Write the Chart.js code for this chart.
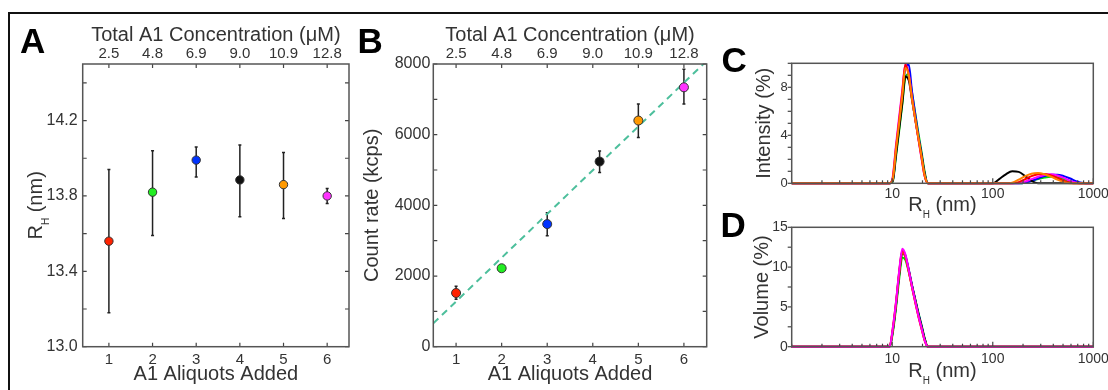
<!DOCTYPE html>
<html>
<head>
<meta charset="utf-8">
<script src="https://cdn.jsdelivr.net/npm/chart.js@4.4.1/dist/chart.umd.min.js"></script>
<style>
  html, body { margin: 0; padding: 0; background: #fff; }
  body { width: 1108px; height: 390px; position: relative; overflow: hidden; font-family: "Liberation Sans", Arial, sans-serif; }
  canvas { position: absolute; }
  .frame { position: absolute; left: 8px; top: 12px; width: 1200px; height: 500px; border-top: 2px solid #111; border-left: 2px solid #111; }
  .lbl { position: absolute; font-weight: bold; font-size: 35px; line-height: 35px; color: #000; }
</style>
</head>
<body>
<div class="frame"></div>
<canvas id="chartA" width="355" height="390" style="left:0;top:0"></canvas>
<canvas id="chartB" width="365" height="390" style="left:355px;top:0"></canvas>
<canvas id="chartC" width="410" height="222" style="left:720px;top:0"></canvas>
<canvas id="chartD" width="410" height="190" style="left:720px;top:200px"></canvas>
<div class="lbl" style="left:20px;top:23.4px">A</div>
<div class="lbl" style="left:357.5px;top:23.4px">B</div>
<div class="lbl" style="left:721.5px;top:42.4px">C</div>
<div class="lbl" style="left:720.5px;top:207.4px">D</div>
<script>
// shared categories
const ALIQUOTS = [1, 2, 3, 4, 5, 6];
const CONC_LABELS = ['2.5', '4.8', '6.9', '9.0', '10.9', '12.8'];
const POINT_COLORS = ['#ff2200', '#22ee22', '#0033ff', '#111111', '#ff9900', '#ff33ff'];
const LINE_COLORS = { red: '#ff0000', green: '#00dd00', blue: '#0000ff', black: '#000000', orange: '#ff8000', magenta: '#ff00ff' };

// panel A - hydrodynamic radius
const RH_MEAN = [13.56, 13.82, 13.99, 13.885, 13.86, 13.80];
const RH_LO = [13.18, 13.59, 13.90, 13.69, 13.68, 13.76];
const RH_HI = [13.94, 14.04, 14.06, 14.07, 14.03, 13.84];
const A_Y_TICKS = [13.0, 13.2, 13.4, 13.6, 13.8, 14.0, 14.2, 14.4];
const A_Y_LABELS = [13.0, 13.4, 13.8, 14.2];

// panel B - count rate
const B_X = [1, 2, 3, 4.15, 5, 6];
const COUNT_RATE = [1520, 2220, 3470, 5240, 6400, 7340];
const CR_LO = [1340, 2200, 3140, 4930, 5920, 6870];
const CR_HI = [1710, 2240, 3790, 5540, 6870, 7850];
const FIT_X = [0.5, 6.5];
const FIT_Y = [660, 8090];
const B_Y_TICKS = [0, 1000, 2000, 3000, 4000, 5000, 6000, 7000, 8000];
const B_Y_LABELS = [0, 2000, 4000, 6000, 8000];

// panels C and D - size distributions
const LOG_TICKS = [1, 2, 3, 4, 5, 6, 7, 8, 9, 10, 20, 30, 40, 50, 60, 70, 80, 90, 100, 200, 300, 400, 500, 600, 700, 800, 900, 1000];
const LOG_LABELS = [10, 100, 1000];
const C_BINS = [1, 9.4, 10.1, 10.9, 11.7, 12.6, 13.5, 14.6, 15.7, 16.9, 18.2, 19.6, 21.0, 22.6,
  100, 116, 135, 156, 181, 210, 243, 282, 327, 379, 439, 509, 590, 684, 793, 919, 1000];
const C_ORANGE = [0, 0, 0.3, 2.8, 5.0, 7.3, 9.6, 9.0, 7.1, 5.4, 3.8, 2.2, 0.7, 0,
  0, 0, 0, 0.05, 0.3, 0.6, 0.8, 0.85, 0.75, 0.55, 0.3, 0.1, 0, 0, 0, 0, 0];
const C_RED = [0, 0, 0.4, 3.0, 5.2, 7.6, 9.9, 9.0, 7.1, 5.4, 3.7, 2.1, 0.6, 0,
  0, 0, 0, 0, 0.1, 0.35, 0.6, 0.75, 0.78, 0.65, 0.45, 0.2, 0.05, 0, 0, 0, 0];
const C_MAGENTA = [0, 0, 0.5, 3.2, 5.5, 7.8, 9.9, 9.1, 7.2, 5.4, 3.7, 2.0, 0.6, 0,
  0, 0, 0, 0, 0, 0.15, 0.35, 0.55, 0.7, 0.75, 0.65, 0.45, 0.2, 0.05, 0, 0, 0];
const C_BLACK = [0, 0, 0.2, 2.4, 4.5, 6.7, 8.9, 8.6, 7.0, 5.4, 3.8, 2.3, 0.8, 0,
  0, 0.35, 0.75, 1.0, 0.95, 0.6, 0.2, 0, 0, 0, 0, 0, 0, 0, 0, 0, 0];
const C_BLUE = [0, 0, 0.2, 2.6, 4.8, 7.2, 9.6, 9.9, 7.7, 5.8, 4.0, 2.4, 0.8, 0,
  0, 0, 0, 0, 0, 0.05, 0.2, 0.4, 0.6, 0.72, 0.72, 0.6, 0.4, 0.15, 0.02, 0, 0];
const C_GREEN = [0, 0, 0.1, 2.2, 4.3, 6.6, 8.8, 9.1, 7.6, 5.9, 4.2, 2.6, 1.0, 0,
  0, 0, 0, 0, 0, 0.05, 0.2, 0.35, 0.48, 0.55, 0.5, 0.35, 0.15, 0.03, 0, 0, 0];

const D_BINS = [1, 9.4, 10.1, 10.9, 11.7, 12.6, 13.5, 14.6, 15.7, 16.9, 18.2, 19.6, 21.0, 22.6, 1000];
const D_MAGENTA = [0, 0, 2.2, 5.6, 9.4, 12.3, 11.6, 9.6, 7.6, 5.7, 3.9, 2.3, 0.8, 0, 0];
const D_RED = [0, 0, 2.2, 5.6, 9.3, 12.1, 11.4, 9.5, 7.5, 5.6, 3.8, 2.2, 0.8, 0, 0];
const D_ORANGE = [0, 0, 2.0, 5.4, 9.1, 11.9, 11.3, 9.4, 7.5, 5.7, 3.9, 2.3, 0.8, 0, 0];
const D_BLACK = [0, 0, 1.9, 5.2, 8.9, 11.8, 11.3, 9.6, 7.7, 5.9, 4.1, 2.5, 1.0, 0, 0];
const D_BLUE = [0, 0, 1.9, 5.3, 9.1, 12.0, 11.5, 9.7, 7.8, 6.0, 4.2, 2.6, 1.0, 0, 0];
const D_GREEN = [0, 0, 1.6, 4.8, 8.4, 11.2, 10.9, 9.4, 7.7, 6.0, 4.3, 2.7, 1.1, 0, 0];

const FONT = '"Liberation Sans", Arial, sans-serif';
Chart.defaults.font.family = FONT;
Chart.defaults.color = '#333';
Chart.defaults.animation = false;

// per-canvas extras: error bars, tick marks and titles
const FIG = {
  chartA: {
    errX: ALIQUOTS, errLo: RH_LO, errHi: RH_HI,
    marks: [{ scale: 'x', len: 4, mirror: true }, { scale: 'y', len: 4, mirror: true }],
    titles: [
      { text: 'Total A1 Concentration (\u03bcM)', y: 35 },
      { text: 'A1 Aliquots Added', y: 374 },
      { text: 'R', sub: 'H', rest: ' (nm)', x: 36, rot: true }
    ]
  },
  chartB: {
    errX: B_X, errLo: CR_LO, errHi: CR_HI,
    marks: [{ scale: 'x', len: 4, mirror: true }, { scale: 'y', len: 4, mirror: true }],
    titles: [
      { text: 'Total A1 Concentration (\u03bcM)', y: 35 },
      { text: 'A1 Aliquots Added', y: 374 },
      { text: 'Count rate (kcps)', x: 17, rot: true }
    ]
  },
  chartC: {
    marks: [{ scale: 'x', len: 3, major: LOG_LABELS }, { scale: 'y', len: 4, out: true }],
    titles: [
      { text: 'R', sub: 'H', rest: ' (nm)', y: 205 },
      { text: 'Intensity (%)', x: 44, rot: true }
    ]
  },
  chartD: {
    marks: [{ scale: 'x', len: 3, major: LOG_LABELS }, { scale: 'y', len: 4, out: true }],
    titles: [
      { text: 'R', sub: 'H', rest: ' (nm)', y: 171 },
      { text: 'Volume (%)', x: 42.5, rot: true }
    ]
  }
};

const figurePlugin = {
  id: 'figure',
  beforeDatasetsDraw(chart) {
    const o = FIG[chart.canvas.id];
    if (!o || !o.errX) return;
    const ctx = chart.ctx, xs = chart.scales.x, ys = chart.scales.y;
    ctx.save();
    ctx.strokeStyle = '#222';
    ctx.lineWidth = 1.5;
    o.errX.forEach((xv, i) => {
      const px = xs.getPixelForValue(xv);
      const lo = ys.getPixelForValue(o.errLo[i]);
      const hi = ys.getPixelForValue(o.errHi[i]);
      ctx.beginPath();
      ctx.moveTo(px, lo); ctx.lineTo(px, hi);
      ctx.moveTo(px - 1.5, lo); ctx.lineTo(px + 1.5, lo);
      ctx.moveTo(px - 1.5, hi); ctx.lineTo(px + 1.5, hi);
      ctx.stroke();
    });
    ctx.restore();
  },
  afterDraw(chart) {
    const o = FIG[chart.canvas.id];
    if (!o) return;
    const ctx = chart.ctx, a = chart.chartArea;
    ctx.save();
    ctx.strokeStyle = '#444';
    ctx.lineWidth = 1.2;
    o.marks.forEach(m => {
      const s = chart.scales[m.scale];
      const dir = m.out ? -1 : 1;
      s.ticks.forEach(t => {
        const len = (m.major && m.major.includes(t.value)) ? m.len + 2 : m.len;
        const p = s.getPixelForValue(t.value);
        ctx.beginPath();
        if (s.isHorizontal()) {
          ctx.moveTo(p, a.bottom); ctx.lineTo(p, a.bottom - dir * len);
          if (m.mirror) { ctx.moveTo(p, a.top); ctx.lineTo(p, a.top + len); }
        } else {
          ctx.moveTo(a.left, p); ctx.lineTo(a.left + dir * len, p);
          if (m.mirror) { ctx.moveTo(a.right, p); ctx.lineTo(a.right - len, p); }
        }
        ctx.stroke();
      });
    });
    ctx.strokeStyle = '#555';
    ctx.lineWidth = 1.5;
    ctx.strokeRect(a.left, a.top, a.right - a.left, a.bottom - a.top);

    o.titles.forEach(t => {
      const big = '20px ' + FONT, small = '10px ' + FONT;
      ctx.save();
      if (t.rot) {
        ctx.translate(t.x, (a.top + a.bottom) / 2);
        ctx.rotate(-Math.PI / 2);
      } else {
        ctx.translate((a.left + a.right) / 2, t.y);
      }
      ctx.fillStyle = '#333';
      ctx.textBaseline = 'middle';
      ctx.textAlign = 'left';
      ctx.font = big;
      const w1 = ctx.measureText(t.text).width;
      let w2 = 0, w3 = 0;
      if (t.sub) {
        ctx.font = small; w2 = ctx.measureText(t.sub).width;
        ctx.font = big; w3 = ctx.measureText(t.rest).width;
      }
      let x = -(w1 + w2 + w3) / 2;
      ctx.font = big; ctx.fillText(t.text, x, 0); x += w1;
      if (t.sub) {
        ctx.font = small; ctx.fillText(t.sub, x, 10); x += w2;
        ctx.font = big; ctx.fillText(t.rest, x, 0);
      }
      ctx.restore();
    });
    ctx.restore();
  }
};

function fixedTicks(values) {
  return scale => { scale.ticks = values.map(v => ({ value: v })); };
}
const noGrid = { display: false, drawTicks: false };
const noBorder = { display: false };

function aliquotAxes(xMin, yMin, yMax, yTicks, yLabels, yWidth, yPad, decimals) {
  return {
    x: {
      type: 'linear', position: 'bottom', min: xMin, max: 6.5,
      afterBuildTicks: fixedTicks(ALIQUOTS),
      afterFit: s => { s.height = 43.3; },
      grid: noGrid, border: noBorder,
      ticks: { font: { size: 15 }, color: '#333', padding: 4, maxRotation: 0, autoSkip: false, callback: v => String(v) }
    },
    x2: {
      type: 'linear', axis: 'x', position: 'top', min: xMin, max: 6.5,
      afterBuildTicks: fixedTicks(ALIQUOTS),
      afterFit: s => { s.height = 64; },
      grid: noGrid, border: noBorder,
      ticks: { font: { size: 15 }, color: '#333', padding: 1, maxRotation: 0, autoSkip: false, callback: (v, i) => CONC_LABELS[i] }
    },
    y: {
      type: 'linear', min: yMin, max: yMax,
      afterBuildTicks: fixedTicks(yTicks),
      afterFit: s => { s.width = yWidth; },
      grid: noGrid, border: noBorder,
      ticks: { font: { size: 16 }, color: '#333', padding: yPad, autoSkip: false,
        callback: v => yLabels.some(l => Math.abs(l - v) < 1e-6) ? v.toFixed(decimals) : '' }
    }
  };
}

// Panel A
new Chart(document.getElementById('chartA'), {
  type: 'scatter',
  data: {
    datasets: [{
      data: ALIQUOTS.map((x, i) => ({ x: x, y: RH_MEAN[i] })),
      backgroundColor: POINT_COLORS, borderColor: '#333', borderWidth: 1,
      pointRadius: 4.2, pointHoverRadius: 4.2
    }]
  },
  options: {
    responsive: false, animation: false,
    layout: { padding: { left: 0, right: 6, top: 0, bottom: 0 } },
    plugins: { legend: { display: false }, tooltip: { enabled: false } },
    scales: aliquotAxes(0.4, 13.0, 14.5, A_Y_TICKS, A_Y_LABELS, 82.7, 5, 1)
  },
  plugins: [figurePlugin]
});

// Panel B
new Chart(document.getElementById('chartB'), {
  type: 'scatter',
  data: {
    datasets: [{
      data: B_X.map((x, i) => ({ x: x, y: COUNT_RATE[i] })),
      backgroundColor: POINT_COLORS, borderColor: '#333', borderWidth: 1,
      pointRadius: 4.5, pointHoverRadius: 4.5, order: 0
    }, {
      type: 'line',
      data: FIT_X.map((x, i) => ({ x: x, y: FIT_Y[i] })),
      borderColor: '#4dbf9c', borderWidth: 2, borderDash: [7, 5],
      pointRadius: 0, fill: false, order: 1
    }]
  },
  options: {
    responsive: false, animation: false,
    layout: { padding: { left: 0, right: 13.3, top: 0, bottom: 0 } },
    plugins: { legend: { display: false }, tooltip: { enabled: false } },
    scales: aliquotAxes(0.5, 0, 8000, B_Y_TICKS, B_Y_LABELS, 78.3, 3, 0)
  },
  plugins: [figurePlugin]
});

function distLine(bins, values, color) {
  return {
    data: bins.map((x, i) => ({ x: x, y: values[i] })),
    borderColor: color, borderWidth: 2, pointRadius: 0, fill: false,
    cubicInterpolationMode: 'monotone', clip: false
  };
}

function distScales(bottomH, yMax, yTicks, yLabels, yFont, xPad) {
  return {
    x: {
      type: 'logarithmic', position: 'bottom', min: 1, max: 1000,
      afterBuildTicks: fixedTicks(LOG_TICKS),
      afterFit: s => { s.height = bottomH; },
      grid: noGrid, border: noBorder,
      ticks: { font: { size: 14 }, color: '#333', padding: xPad, maxRotation: 0, autoSkip: false,
        callback: v => LOG_LABELS.includes(v) ? String(v) : '' }
    },
    y: {
      type: 'linear', min: 0, max: yMax,
      afterBuildTicks: fixedTicks(yTicks),
      afterFit: s => { s.width = 71.7; },
      grid: noGrid, border: noBorder,
      ticks: { font: { size: yFont }, color: '#333', padding: 4, autoSkip: false,
        callback: v => yLabels.includes(v) ? String(v) : '' }
    }
  };
}

// Panel C
new Chart(document.getElementById('chartC'), {
  type: 'line',
  data: {
    datasets: [
      distLine(C_BINS, C_ORANGE, LINE_COLORS.orange),
      distLine(C_BINS, C_RED, LINE_COLORS.red),
      distLine(C_BINS, C_MAGENTA, LINE_COLORS.magenta),
      distLine(C_BINS, C_BLACK, LINE_COLORS.black),
      distLine(C_BINS, C_BLUE, LINE_COLORS.blue),
      distLine(C_BINS, C_GREEN, LINE_COLORS.green)
    ]
  },
  options: {
    responsive: false, animation: false,
    layout: { padding: { left: 0, right: 36.7, top: 63.3, bottom: 0 } },
    plugins: { legend: { display: false }, tooltip: { enabled: false } },
    scales: distScales(38.7, 10, [0, 1, 2, 3, 4, 5, 6, 7, 8, 9, 10], [0, 4, 8], 13, 2)
  },
  plugins: [figurePlugin]
});

// Panel D
new Chart(document.getElementById('chartD'), {
  type: 'line',
  data: {
    datasets: [
      distLine(D_BINS, D_MAGENTA, LINE_COLORS.magenta),
      distLine(D_BINS, D_RED, LINE_COLORS.red),
      distLine(D_BINS, D_ORANGE, LINE_COLORS.orange),
      distLine(D_BINS, D_BLACK, LINE_COLORS.black),
      distLine(D_BINS, D_BLUE, LINE_COLORS.blue),
      distLine(D_BINS, D_GREEN, LINE_COLORS.green)
    ]
  },
  options: {
    responsive: false, animation: false,
    layout: { padding: { left: 0, right: 36.7, top: 27.3, bottom: 0 } },
    plugins: { legend: { display: false }, tooltip: { enabled: false } },
    scales: distScales(43.3, 15, [0, 2.5, 5, 7.5, 10, 12.5, 15], [0, 5, 10, 15], 14, 4)
  },
  plugins: [figurePlugin]
});
</script>
</body>
</html>
